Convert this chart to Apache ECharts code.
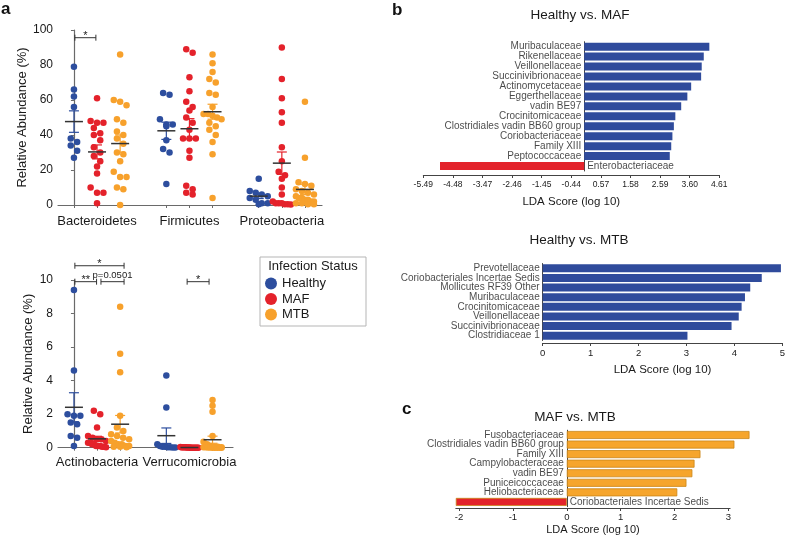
<!DOCTYPE html>
<html><head><meta charset="utf-8">
<script src="https://cdn.jsdelivr.net/npm/echarts@6/dist/echarts.min.js"></script>
<style>html,body{margin:0;padding:0;background:#fff}#c{width:788px;height:537px}</style>
</head><body><div id="c"></div>
<script>
// ---------------- DATA ----------------
const groups = ['Healthy', 'MAF', 'MTB'];
const groupColors = ['#2d4e9e', '#e4222b', '#f7a12c'];

const phylaTop = ['Bacteroidetes', 'Firmicutes', 'Proteobacteria'];
const phylaBottom = ['Actinobacteria', 'Verrucomicrobia'];

const bacteroidetesHealthy = [79, 66, 62, 56, 38, 36, 34, 31, 27];
const bacteroidetesMAF = [61, 48, 47, 47, 44, 41, 40, 37, 33, 30, 28, 25, 22, 18, 10, 7, 7, 1];
const bacteroidetesMTB = [86, 60, 59, 57, 49, 47, 42, 40, 38, 35, 30, 29, 25, 19, 16, 16, 10, 9, 0];
const firmicutesHealthy = [64, 63, 49, 46, 46, 45, 37, 32, 30, 12];
const firmicutesMAF = [89, 87, 73, 65, 59, 56, 54, 50, 47, 43, 38, 38, 38, 31, 27, 11, 9, 7, 6];
const firmicutesMTB = [86, 81, 76, 72, 70, 64, 63, 56, 52, 52, 51, 50, 49, 47, 45, 43, 40, 36, 29, 4];
const proteobacteriaHealthy = [15, 8, 7, 6, 5, 4, 3, 1, 1, 0.5];
const proteobacteriaMAF = [90, 72, 61, 53, 47, 33, 25, 19, 17, 15, 10, 6, 2, 1, 1, 1, 0.5, 0.5, 0.3];
const proteobacteriaMTB = [59, 27, 13, 12, 11, 9, 8, 7, 6, 5, 4, 4, 3, 3, 2, 2, 1, 1, 0.5, 0.5];

const actinobacteriaHealthy = [9.4, 4.6, 2.0, 1.9, 1.9, 1.5, 1.4, 0.7, 0.6, 0.1];
const actinobacteriaMAF = [2.2, 2.0, 1.2, 0.7, 0.6, 0.5, 0.5, 0.4, 0.3, 0.3, 0.2, 0.2, 0.1, 0.1, 0.1, 0.05, 0.05, 0.02];
const actinobacteriaMTB = [8.4, 5.6, 4.5, 1.9, 1.2, 1.0, 0.8, 0.7, 0.6, 0.5, 0.4, 0.3, 0.2, 0.2, 0.1, 0.1, 0.05, 0.05, 0.02];
const verrucomicrobiaHealthy = [4.3, 2.4, 0.2, 0.1, 0.05, 0.05, 0.02, 0.02, 0.01, 0.01];
const verrucomicrobiaMAF = [0.04, 0.03, 0.03, 0.02, 0.02, 0.02, 0.01, 0.01, 0.01, 0.01, 0, 0, 0, 0, 0, 0, 0, 0];
const verrucomicrobiaMTB = [2.85, 2.5, 2.15, 0.7, 0.35, 0.2, 0.1, 0.05, 0.05, 0.03, 0.02, 0.02, 0.01, 0.01, 0, 0, 0, 0, 0];

const topTicks = [0, 20, 40, 60, 80, 100];
const bottomTicks = [0, 2, 4, 6, 8, 10];

const topBrackets = [{ x1: 0.04, x2: 0.95, y: 95.6, label: '*' }];
const bottomBrackets = [
  { x1: 0.04, x2: 2.17, y: 10.85, label: '*' },
  { x1: 0.04, x2: 0.98, y: 9.9, label: '**' },
  { x1: 1.17, x2: 2.17, y: 9.9, label: 'p=0.0501' },
  { x1: 4.9, x2: 5.85, y: 9.9, label: '*' }
];

const hmafNames = ['Muribaculaceae', 'Rikenellaceae', 'Veillonellaceae', 'Succinivibrionaceae', 'Actinomycetaceae', 'Eggerthellaceae', 'vadin BE97', 'Crocinitomicaceae', 'Clostridiales vadin BB60 group', 'Coriobacteriaceae', 'Family XIII', 'Peptococcaceae', 'Enterobacteriaceae'];
const hmafScores = [4.27, 4.08, 4.01, 3.99, 3.65, 3.52, 3.31, 3.11, 3.06, 3.01, 2.97, 2.92, -4.92];
const hmafTicks = [-5.49, -4.48, -3.47, -2.46, -1.45, -0.44, 0.57, 1.58, 2.59, 3.60, 4.61];

const hmtbNames = ['Prevotellaceae', 'Coriobacteriales Incertae Sedis', 'Mollicutes RF39 Other', 'Muribaculaceae', 'Crocinitomicaceae', 'Veillonellaceae', 'Succinivibrionaceae', 'Clostridiaceae 1'];
const hmtbScores = [4.97, 4.57, 4.33, 4.22, 4.15, 4.09, 3.94, 3.02];
const hmtbTicks = [0, 1, 2, 3, 4, 5];

const mmNames = ['Fusobacteriaceae', 'Clostridiales vadin BB60 group', 'Family XIII', 'Campylobacteraceae', 'vadin BE97', 'Puniceicoccaceae', 'Heliobacteriaceae', 'Coriobacteriales Incertae Sedis'];
const mmScores = [3.39, 3.11, 2.48, 2.37, 2.33, 2.22, 2.05, -2.06];
const mmTicks = [-2, -1, 0, 1, 2, 3];

// ---------------- LAYOUT ----------------
const FONT = 'Liberation Sans, Arial, Helvetica, sans-serif';
const TXT = '#1a1a1a';
const AX = '#6a6a6a';
const BLUE = '#2f4b9c', RED = '#e3232b', ORANGE = '#f6a52c';

const topSets = [
  [bacteroidetesHealthy, bacteroidetesMAF, bacteroidetesMTB],
  [firmicutesHealthy, firmicutesMAF, firmicutesMTB],
  [proteobacteriaHealthy, proteobacteriaMAF, proteobacteriaMTB]
];
const bottomSets = [
  [actinobacteriaHealthy, actinobacteriaMAF, actinobacteriaMTB],
  [verrucomicrobiaHealthy, verrucomicrobiaMAF, verrucomicrobiaMTB]
];

const gTop = { left: 58, top: 30, width: 264, height: 175 };
const gBot = { left: 58, top: 280, width: 175, height: 167.7 };
const UNIT = 23.1; // px per x unit
const xMinL = -0.69;
const topXMax = xMinL + gTop.width / UNIT;
const botXMax = xMinL + gBot.width / UNIT;

function swarm(values, pos, pxX, pxY) {
  const D = 6.4, MAXW = 9;
  const order = values.map((v, i) => i).sort((a, b) => values[b] - values[a]);
  const out = [];
  let i = 0;
  while (i < order.length) {
    const startPy = values[order[i]] * pxY;
    const bin = [order[i]];
    let j = i + 1;
    while (j < order.length && startPy - values[order[j]] * pxY < D * 0.85) { bin.push(order[j]); j++; }
    const n = bin.length;
    const s = n > 1 ? Math.min(D, 2 * MAXW / (n - 1)) : 0;
    bin.forEach((k, t) => {
      const dx = (t - (n - 1) / 2) * s;
      out.push([pos + dx / pxX, values[k]]);
    });
    i = j;
  }
  return out;
}
function meanSem(arr) {
  const n = arr.length;
  const m = arr.reduce((a, b) => a + b, 0) / n;
  const sd = Math.sqrt(arr.reduce((a, b) => a + (b - m) * (b - m), 0) / (n - 1));
  return [m, sd / Math.sqrt(n)];
}
function buildPanel(sets, grid, ymax) {
  const pxY = grid.height / ymax;
  const scatter = groups.map(() => []);
  const means = [];
  sets.forEach((trip, p) => {
    trip.forEach((vals, g) => {
      const pos = p * 4 + g;
      scatter[g].push(...swarm(vals, pos, UNIT, pxY));
      const ms = meanSem(vals);
      means.push([pos, ms[0], ms[1], g]);
    });
  });
  return { scatter, means };
}
const topPanel = buildPanel(topSets, gTop, 100);
const botPanel = buildPanel(bottomSets, gBot, 10);

function meanRender(params, api) {
  const x = api.value(0), m = api.value(1), s = api.value(2), g = api.value(3);
  const c = api.coord([x, m]);
  const t = api.coord([x, m + s]);
  const b = api.coord([x, m - s]);
  const col = groupColors[g];
  return {
    type: 'group', children: [
      { type: 'line', shape: { x1: c[0], y1: t[1], x2: c[0], y2: b[1] }, style: { stroke: col, lineWidth: 1.2 } },
      { type: 'line', shape: { x1: c[0] - 5, y1: t[1], x2: c[0] + 5, y2: t[1] }, style: { stroke: col, lineWidth: 1.2 } },
      { type: 'line', shape: { x1: c[0] - 5, y1: b[1], x2: c[0] + 5, y2: b[1] }, style: { stroke: col, lineWidth: 1.2 } },
      { type: 'line', shape: { x1: c[0] - 9, y1: c[1], x2: c[0] + 9, y2: c[1] }, style: { stroke: '#333', lineWidth: 1.5 } }
    ]
  };
}
function bracketRender(list) {
  return function (params, api) {
    const x1 = api.value(0), x2 = api.value(1), y = api.value(2), i = api.value(3);
    const p1 = api.coord([x1, y]), p2 = api.coord([x2, y]);
    const label = list[i].label;
    const stars = /^\*+$/.test(label);
    return {
      type: 'group', children: [
        { type: 'line', shape: { x1: p1[0], y1: p1[1], x2: p2[0], y2: p2[1] }, style: { stroke: '#333', lineWidth: 1 } },
        { type: 'line', shape: { x1: p1[0], y1: p1[1] - 3, x2: p1[0], y2: p1[1] + 3 }, style: { stroke: '#333', lineWidth: 1 } },
        { type: 'line', shape: { x1: p2[0], y1: p2[1] - 3, x2: p2[0], y2: p2[1] + 3 }, style: { stroke: '#333', lineWidth: 1 } },
        { type: 'text', x: (p1[0] + p2[0]) / 2, y: stars ? p1[1] - 2 : p1[1] - 1.5,
          style: { text: label, fill: '#222', fontSize: stars ? 11 : 9.5, fontFamily: FONT, align: 'center', verticalAlign: stars ? 'middle' : 'bottom' } }
      ]
    };
  };
}

function leftXAxis(gi, max, phyla, margin) {
  const ticks = [], labPos = [];
  phyla.forEach((p, i) => { ticks.push(i * 4, i * 4 + 1, i * 4 + 2); labPos.push(i * 4 + 1); });
  return {
    type: 'value', gridIndex: gi, min: xMinL, max: max,
    axisLine: { show: true, onZero: false, lineStyle: { color: AX, width: 1.2 } },
    axisTick: { show: true, customValues: ticks, length: 3, lineStyle: { color: AX } },
    axisLabel: { customValues: labPos, margin: margin, fontSize: 13, color: TXT,
      formatter: v => { const k = labPos.indexOf(Math.round(v)); return k >= 0 ? phyla[k] : ''; } },
    splitLine: { show: false }
  };
}
function leftYAxis(gi, max, ticks, gap) {
  return {
    type: 'value', gridIndex: gi, min: 0, max: max, interval: ticks[1] - ticks[0],
    name: 'Relative Abundance (%)', nameLocation: 'middle', nameGap: gap,
    nameTextStyle: { fontSize: 13, color: TXT },
    axisLine: { show: true, lineStyle: { color: AX, width: 1.2 } },
    axisTick: { show: true, length: 3, lineStyle: { color: AX } },
    axisLabel: { fontSize: 12, color: TXT, margin: 5 },
    splitLine: { show: false }
  };
}
function catAxis(gi, names) {
  return {
    type: 'category', gridIndex: gi, data: names, inverse: true,
    axisLine: { show: true, onZero: true, lineStyle: { color: '#444', width: 1 } },
    axisTick: { show: false },
    axisLabel: { show: false }
  };
}
function valAxis(gi, min, max, ticks, fmt, fontSize, margin, offset, nameSize, nameGap) {
  return {
    type: 'value', gridIndex: gi, min: min, max: max, offset: offset,
    name: 'LDA Score (log 10)', nameLocation: 'middle', nameGap: nameGap,
    nameTextStyle: { fontSize: nameSize, color: TXT },
    axisLine: { show: true, onZero: false, lineStyle: { color: '#444', width: 1 } },
    axisTick: { show: true, customValues: ticks, length: 3, lineStyle: { color: '#444' } },
    axisLabel: { customValues: ticks, fontSize: fontSize, color: TXT, margin: margin, formatter: fmt },
    splitLine: { show: false }
  };
}
function barSeries(gi, scores, posColor, border) {
  return {
    type: 'bar', xAxisIndex: gi, yAxisIndex: gi, data: scores, barWidth: 8, clip: false,
    itemStyle: { color: p => p.value < 0 ? RED : posColor, borderColor: border, borderWidth: border ? 0.8 : 0 },
    z: 2
  };
}
// names drawn at the zero line: left of it for positive scores, right of it for negative ones
function nameLabelSeries(gi, names, scores) {
  const data = names.map((n, i) => ({
    value: [0, n],
    label: { position: scores[i] < 0 ? 'right' : 'left' }
  }));
  return {
    type: 'scatter', xAxisIndex: gi, yAxisIndex: gi, symbolSize: 0, data: data, z: 5,
    label: { show: true, distance: 3, fontSize: 10, color: TXT, formatter: p => p.value[1] }
  };
}

const scatterSeries = [];
groups.forEach((g, gi) => {
  scatterSeries.push({ name: g, type: 'scatter', xAxisIndex: 0, yAxisIndex: 0, data: topPanel.scatter[gi],
    symbolSize: 6.5, itemStyle: { color: groupColors[gi], opacity: 1 }, z: 2 });
  scatterSeries.push({ name: g, type: 'scatter', xAxisIndex: 1, yAxisIndex: 1, data: botPanel.scatter[gi],
    symbolSize: 6.5, itemStyle: { color: groupColors[gi], opacity: 1 }, z: 2 });
});

const option = {
  animation: false,
  textStyle: { fontFamily: FONT },
  grid: [
    { left: gTop.left, top: gTop.top, width: gTop.width, height: gTop.height },
    { left: gBot.left, top: gBot.top, width: gBot.width, height: gBot.height },
    { left: 423.3, top: 41.7, width: 296, height: 129.3 },
    { left: 542.7, top: 263.5, width: 242.5, height: 77 },
    { left: 455.8, top: 430.2, width: 274.3, height: 76.5 }
  ],
  xAxis: [
    leftXAxis(0, topXMax, phylaTop, 10),
    leftXAxis(1, botXMax, phylaBottom, 8),
    valAxis(2, -5.49, 4.61, hmafTicks, v => v.toFixed(2), 8.5, 5.5, 4, 11.5, 21),
    valAxis(3, 0, 5, hmtbTicks, v => String(v), 9.5, 5, 2.5, 11.5, 21),
    valAxis(4, -2.06, 3.03, mmTicks, v => String(v), 9.5, 4, 1.3, 11, 16)
  ],
  yAxis: [
    leftYAxis(0, 100, topTicks, 23),
    leftYAxis(1, 10, bottomTicks, 23),
    catAxis(2, hmafNames),
    catAxis(3, hmtbNames),
    catAxis(4, mmNames)
  ],
  legend: {
    data: groups, orient: 'vertical', left: 265, top: 277, itemWidth: 12, itemHeight: 12, itemGap: 2.5,
    icon: 'circle', textStyle: { fontSize: 13, color: TXT }, padding: 0, selectedMode: false
  },
  graphic: [
    { type: 'rect', shape: { x: 260, y: 257, width: 106, height: 69 }, style: { fill: 'none', stroke: '#b5b5b5', lineWidth: 1 } },
    { type: 'text', x: 313, y: 266, style: { text: 'Infection Status', fontSize: 13, fontFamily: FONT, fill: TXT, align: 'center', verticalAlign: 'middle' } },
    { type: 'text', x: 1, y: 9, style: { text: 'a', fontSize: 17, fontWeight: 'bold', fontFamily: FONT, fill: '#111', verticalAlign: 'middle' } },
    { type: 'text', x: 392, y: 10, style: { text: 'b', fontSize: 17, fontWeight: 'bold', fontFamily: FONT, fill: '#111', verticalAlign: 'middle' } },
    { type: 'text', x: 402, y: 409, style: { text: 'c', fontSize: 17, fontWeight: 'bold', fontFamily: FONT, fill: '#111', verticalAlign: 'middle' } },
    { type: 'text', x: 580, y: 15, style: { text: 'Healthy vs. MAF', fontSize: 13.5, fontFamily: FONT, fill: TXT, align: 'center', verticalAlign: 'middle' } },
    { type: 'text', x: 579, y: 240, style: { text: 'Healthy vs. MTB', fontSize: 13.5, fontFamily: FONT, fill: TXT, align: 'center', verticalAlign: 'middle' } },
    { type: 'text', x: 575, y: 417, style: { text: 'MAF vs. MTB', fontSize: 13.5, fontFamily: FONT, fill: TXT, align: 'center', verticalAlign: 'middle' } }
  ],
  series: [
    ...scatterSeries,
    { type: 'custom', xAxisIndex: 0, yAxisIndex: 0, renderItem: meanRender, data: topPanel.means, encode: { x: 0, y: 1 }, z: 4, clip: false },
    { type: 'custom', xAxisIndex: 1, yAxisIndex: 1, renderItem: meanRender, data: botPanel.means, encode: { x: 0, y: 1 }, z: 4, clip: false },
    { type: 'custom', xAxisIndex: 0, yAxisIndex: 0, renderItem: bracketRender(topBrackets),
      data: topBrackets.map((b, i) => [b.x1, b.x2, b.y, i]), encode: { x: [0, 1], y: 2 }, z: 4, clip: false },
    { type: 'custom', xAxisIndex: 1, yAxisIndex: 1, renderItem: bracketRender(bottomBrackets),
      data: bottomBrackets.map((b, i) => [b.x1, b.x2, b.y, i]), encode: { x: [0, 1], y: 2 }, z: 4, clip: false },
    barSeries(2, hmafScores, BLUE, null),
    nameLabelSeries(2, hmafNames, hmafScores),
    barSeries(3, hmtbScores, BLUE, null),
    nameLabelSeries(3, hmtbNames, hmtbScores),
    barSeries(4, mmScores, ORANGE, '#c98518'),
    nameLabelSeries(4, mmNames, mmScores)
  ]
};

const chart = echarts.init(document.getElementById('c'), null, { renderer: 'canvas' });
chart.setOption(option);
</script>
</body></html>
